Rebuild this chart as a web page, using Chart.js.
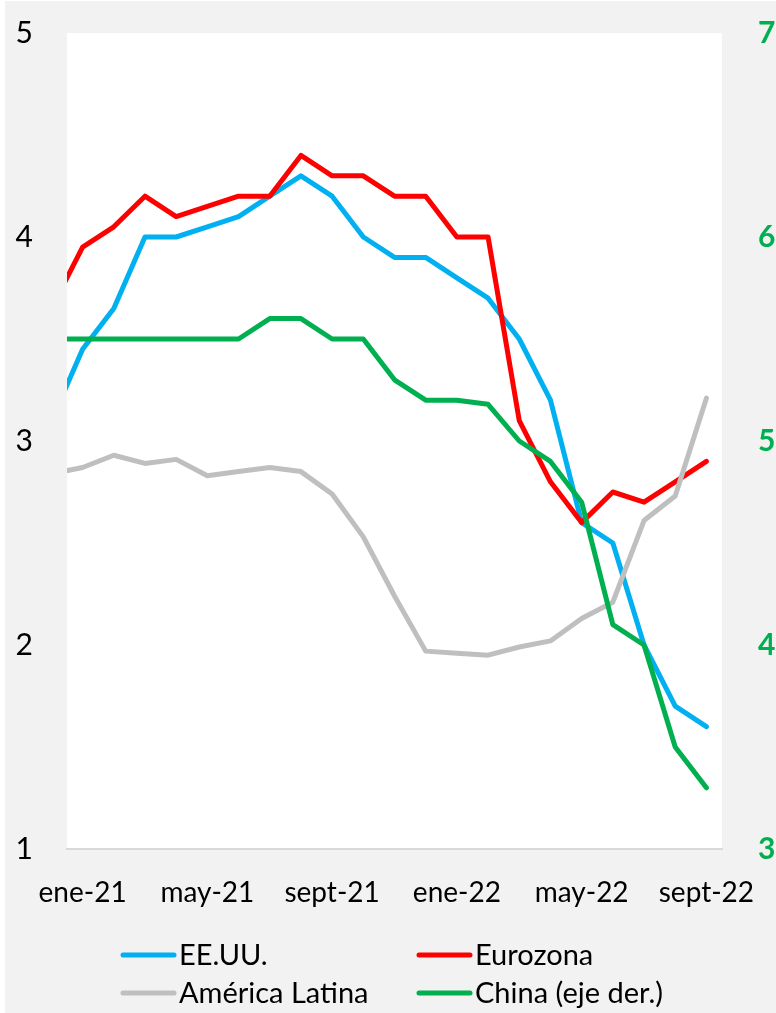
<!DOCTYPE html>
<html lang="es">
<head>
<meta charset="UTF-8">
<title>Inflación</title>
<script src="https://cdn.jsdelivr.net/npm/chart.js"></script>
<style>
  html, body { margin: 0; padding: 0; background: #ffffff; }
  #wrap { position: absolute; left: 5px; top: 1px; width: 771px; height: 1012px; }
</style>
</head>
<body>
<div id="wrap"><canvas id="myChart"></canvas></div>
<script>
// meses (el primero, dic-20, queda recortado en el borde izquierdo)
const months = ['dic-20', 'ene-21', 'feb-21', 'mar-21', 'abr-21', 'may-21', 'jun-21', 'jul-21', 'ago-21',
  'sept-21', 'oct-21', 'nov-21', 'dic-21', 'ene-22', 'feb-22', 'mar-22', 'abr-22', 'may-22', 'jun-22',
  'jul-22', 'ago-22', 'sept-22'];
const tickMonths = ['ene-21', 'may-21', 'sept-21', 'ene-22', 'may-22', 'sept-22'];

const eeuu     = [3.1, 3.45, 3.65, 4.0, 4.0, 4.05, 4.1, 4.2, 4.3, 4.2, 4.0, 3.9, 3.9, 3.8, 3.7, 3.5, 3.2, 2.6, 2.5, 2.0, 1.7, 1.6];
const eurozona = [3.65, 3.95, 4.05, 4.2, 4.1, 4.15, 4.2, 4.2, 4.4, 4.3, 4.3, 4.2, 4.2, 4.0, 4.0, 3.1, 2.8, 2.6, 2.75, 2.7, 2.8, 2.9];
const latam    = [2.84, 2.87, 2.93, 2.89, 2.91, 2.83, 2.85, 2.87, 2.85, 2.74, 2.53, 2.24, 1.97, 1.96, 1.95, 1.99, 2.02, 2.13, 2.21, 2.61, 2.73, 3.21];
const china    = [5.5, 5.5, 5.5, 5.5, 5.5, 5.5, 5.5, 5.6, 5.6, 5.5, 5.5, 5.3, 5.2, 5.2, 5.18, 5.0, 4.9, 4.7, 4.1, 4.0, 3.5, 3.3];

const series = [
  { label: 'EE.UU.', data: eeuu, color: '#00b0f0', axis: 'y', order: 3 },
  { label: 'Eurozona', data: eurozona, color: '#ff0000', axis: 'y', order: 2 },
  { label: 'América Latina', data: latam, color: '#bfbfbf', axis: 'y', order: 1 },
  { label: 'China (eje der.)', data: china, color: '#00b050', axis: 'y2', order: 0 }
];

const FONT = 'Lato, "DejaVu Sans", sans-serif';

// índice 0 = ene-21
const toPoints = arr => arr.map((v, i) => ({ x: i - 1, y: v }));

const bgPlugin = {
  id: 'bg',
  beforeDraw(chart) {
    const { ctx, chartArea: a } = chart;
    ctx.save();
    ctx.fillStyle = '#f2f2f2';
    ctx.fillRect(0, 0, chart.width, chart.height);
    ctx.fillStyle = '#ffffff';
    ctx.fillRect(a.left, a.top, a.right - a.left, a.bottom - a.top);
    ctx.restore();
  }
};

// leyenda en dos columnas
const legendPlugin = {
  id: 'gridLegend',
  afterDraw(chart) {
    const { ctx } = chart;
    const cols = [116, 412];
    const rows = [954, 992];
    ctx.save();
    ctx.font = '29px ' + FONT;
    ctx.textBaseline = 'middle';
    ctx.lineCap = 'round';
    ctx.lineWidth = 5;
    chart.data.datasets.forEach((ds, i) => {
      const x = cols[i % 2];
      const y = rows[Math.floor(i / 2)];
      ctx.strokeStyle = ds.borderColor;
      ctx.beginPath();
      ctx.moveTo(x + 2, y);
      ctx.lineTo(x + 53, y);
      ctx.stroke();
      ctx.fillStyle = '#000000';
      ctx.fillText(ds.label, x + 58, y + 1);
    });
    ctx.restore();
  }
};

const fitY = width => axis => {
  axis.width = width;
  axis.paddingTop = 0;
  axis.paddingBottom = 0;
};

const ctx = document.getElementById('myChart').getContext('2d');
const myChart = new Chart(ctx, {
  type: 'line',
  data: {
    datasets: series.map(s => ({
      label: s.label,
      data: toPoints(s.data),
      borderColor: s.color,
      backgroundColor: s.color,
      borderWidth: 5,
      borderJoinStyle: 'round',
      borderCapStyle: 'round',
      pointRadius: 0,
      tension: 0,
      yAxisID: s.axis,
      order: s.order
    }))
  },
  options: {
    responsive: true,
    maintainAspectRatio: false,
    animation: false,
    layout: { padding: { top: 32, left: 0, right: 0, bottom: 0 } },
    plugins: { legend: { display: false }, tooltip: { enabled: false } },
    scales: {
      x: {
        type: 'linear',
        min: -0.5,
        max: 20.5,
        grid: { display: false },
        border: { display: true, color: '#d9d9d9', width: 2 },
        afterBuildTicks: axis => {
          axis.ticks = tickMonths.map(m => ({ value: months.indexOf(m) - 1 }));
        },
        afterFit: axis => { axis.height = 164; axis.paddingLeft = 0; axis.paddingRight = 0; },
        ticks: {
          color: '#000000',
          font: { family: FONT, size: 28 },
          padding: 19,
          maxRotation: 0,
          autoSkip: false,
          callback: v => months[v + 1]
        }
      },
      y: {
        position: 'left',
        min: 1,
        max: 5,
        grid: { display: false },
        border: { display: false },
        afterFit: fitY(62),
        ticks: {
          stepSize: 1,
          color: '#000000',
          font: { family: FONT, size: 30 },
          padding: 26
        }
      },
      y2: {
        position: 'right',
        min: 3,
        max: 7,
        grid: { display: false },
        border: { display: false },
        afterFit: fitY(54),
        ticks: {
          stepSize: 1,
          color: '#00b050',
          font: { family: FONT, size: 30, weight: 'bold' },
          padding: 28
        }
      }
    }
  },
  plugins: [bgPlugin, legendPlugin]
});
</script>
</body>
</html>
